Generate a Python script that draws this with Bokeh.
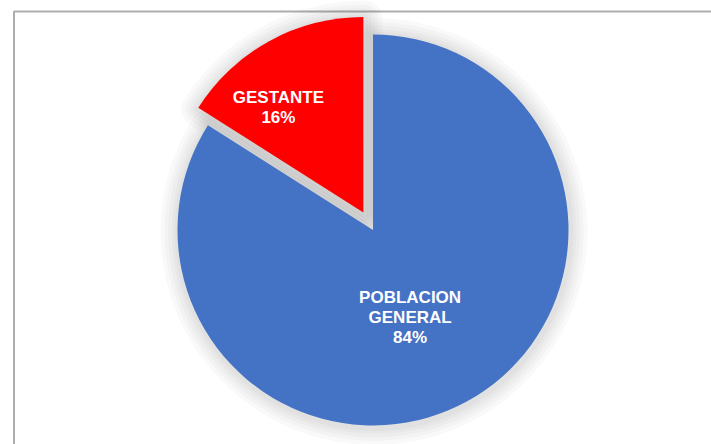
import math
from bokeh.plotting import figure
from bokeh.models import Range1d, ColumnDataSource
from bokeh.embed import file_html
from bokeh.resources import INLINE
from bokeh.core.properties import value

# ---- data ----
categories = ["POBLACION GENERAL", "GESTANTE"]
values = [84, 16]
label_lines = [["POBLACION", "GENERAL"], ["GESTANTE"]]
colors = ["#4472C4", "#FF0000"]

# ---- geometry / style (data units == screen pixels, y up) ----
W, H = 711, 444
CX, CY = 372.5, H - 229.5
R = 195.5
EXPLODE = [0, 20]
LABEL_DIST = [95, 135]
LABEL_ANGLE_TWEAK = [-5.8, 10.2]
LINE_STEP = 20
FONT = "Liberation Sans"

p = figure(width=W, height=H, output_backend="svg", toolbar_location=None,
           x_range=Range1d(0, W), y_range=Range1d(0, H), min_border=0)
p.axis.visible = False
p.grid.visible = False
p.outline_line_color = None
p.background_fill_color = "white"
p.border_fill_color = "white"

# chart-area border (top and left visible)
p.line([13.5, 13.5, W + 10], [-10, H - 11, H - 11], line_color="#adadad", line_width=2)

total = sum(values)
cum = 0.0
slices = []
for i, v in enumerate(values):
    a0 = math.pi / 2 - 2 * math.pi * cum / total
    cum += v
    a1 = math.pi / 2 - 2 * math.pi * cum / total
    mid = (a0 + a1) / 2
    ox = CX + EXPLODE[i] * math.cos(mid)
    oy = CY + EXPLODE[i] * math.sin(mid)
    slices.append((a0, a1, mid, ox, oy))

# soft shadows
for i, (a0, a1, mid, ox, oy) in enumerate(slices):
    for w in [36, 28, 21, 14, 8]:
        p.wedge(x=[ox + 1], y=[oy - 1.5], radius=R, start_angle=[a0], end_angle=[a1],
                direction="clock", fill_color=None, line_color="black",
                line_alpha=0.022, line_width=w, line_join="round")

# slices
for i, (a0, a1, mid, ox, oy) in enumerate(slices):
    p.wedge(x=[ox], y=[oy], radius=R, start_angle=[a0], end_angle=[a1],
            direction="clock", fill_color=colors[i], line_color=None)

# labels
for i, (a0, a1, mid, ox, oy) in enumerate(slices):
    ang = mid + math.radians(LABEL_ANGLE_TWEAK[i])
    lx = ox + LABEL_DIST[i] * math.cos(ang)
    ly = oy + LABEL_DIST[i] * math.sin(ang)
    pct = f"{round(values[i] / total * 100)}%"
    lines = label_lines[i] + [pct]
    n = len(lines)
    ys = [ly + (n - 1) / 2 * LINE_STEP - k * LINE_STEP for k in range(n)]
    src = ColumnDataSource(dict(x=[lx] * n, y=ys, t=lines))
    p.text(x="x", y="y", text="t", source=src, text_color="white",
           text_font=value(FONT), text_font_size="17px", text_font_style="bold",
           text_align="center", text_baseline="middle")

open("out.html", "w").write(file_html(p, INLINE))
